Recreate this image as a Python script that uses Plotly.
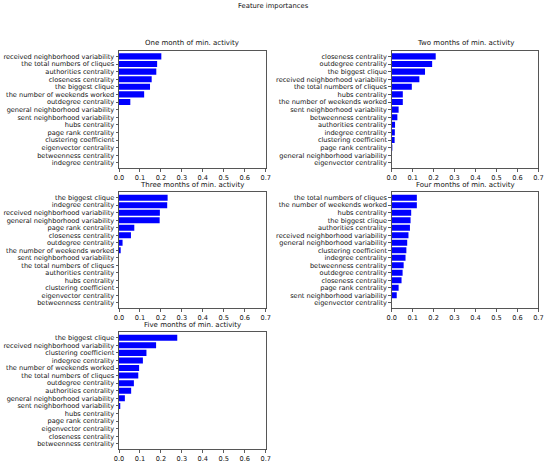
import plotly.graph_objects as go

titles = ["One month of min. activity", "Two months of min. activity",
          "Three months of min. activity", "Four months of min. activity",
          "Five months of min. activity"]

feat1 = ["received neighborhood variability", "the total numbers of cliques", "authorities centrality",
         "closeness centrality", "the biggest clique", "the number of weekends worked", "outdegree centrality",
         "general neighborhood variability", "sent neighborhood variability", "hubs centrality",
         "page rank centrality", "clustering coefficient", "eigenvector centrality",
         "betweenness centrality", "indegree centrality"]
vals1 = [0.202, 0.182, 0.178, 0.156, 0.148, 0.12, 0.054, 0, 0, 0, 0, 0, 0, 0, 0]

feat2 = ["closeness centrality", "outdegree centrality", "the biggest clique",
         "received neighborhood variability", "the total numbers of cliques", "hubs centrality",
         "the number of weekends worked", "sent neighborhood variability", "betweenness centrality",
         "authorities centrality", "indegree centrality", "clustering coefficient", "page rank centrality",
         "general neighborhood variability", "eigenvector centrality"]
vals2 = [0.21, 0.193, 0.159, 0.132, 0.096, 0.053, 0.053, 0.033, 0.027, 0.016, 0.015, 0.014, 0.003, 0.001, 0]

feat3 = ["the biggest clique", "indegree centrality", "received neighborhood variability",
         "general neighborhood variability", "page rank centrality", "closeness centrality",
         "outdegree centrality", "the number of weekends worked", "sent neighborhood variability",
         "the total numbers of cliques", "authorities centrality", "hubs centrality",
         "clustering coefficient", "eigenvector centrality", "betweenness centrality"]
vals3 = [0.232, 0.230, 0.195, 0.194, 0.073, 0.057, 0.017, 0.008, 0, 0, 0, 0, 0, 0, 0]

feat4 = ["the total numbers of cliques", "the number of weekends worked", "hubs centrality",
         "the biggest clique", "authorities centrality", "received neighborhood variability",
         "general neighborhood variability", "clustering coefficient", "indegree centrality",
         "betweenness centrality", "outdegree centrality", "closeness centrality", "page rank centrality",
         "sent neighborhood variability", "eigenvector centrality"]
vals4 = [0.12, 0.12, 0.093, 0.09, 0.087, 0.08, 0.074, 0.07, 0.066, 0.057, 0.052, 0.047, 0.033, 0.024, 0]

feat5 = ["the biggest clique", "received neighborhood variability", "clustering coefficient",
         "indegree centrality", "the number of weekends worked", "the total numbers of cliques",
         "outdegree centrality", "authorities centrality", "general neighborhood variability",
         "sent neighborhood variability", "hubs centrality", "page rank centrality",
         "eigenvector centrality", "closeness centrality", "betweenness centrality"]
vals5 = [0.278, 0.177, 0.131, 0.114, 0.096, 0.092, 0.071, 0.058, 0.028, 0.006, 0, 0, 0, 0, 0]

xticks = [0.0, 0.1, 0.2, 0.3, 0.4, 0.5, 0.6, 0.7]

W, H = 550, 464
FONT = "DejaVu Sans"
FS = 6.6

panels = [(feat1, vals1), (feat2, vals2), (feat3, vals3), (feat4, vals4), (feat5, vals5)]
# pixel boxes: (left, right, top, bottom)
cols = [(119, 265.7), (391.7, 538.4)]
rows = [(50.7, 168.5), (192, 308.5), (332, 449.5)]

fig = go.Figure()
for i, (feats, vals) in enumerate(panels):
    r, c = divmod(i, 2)
    xl, xr = cols[c]
    yt, yb = rows[r]
    n = i + 1
    xa = "x" if n == 1 else f"x{n}"
    ya = "y" if n == 1 else f"y{n}"
    fig.add_trace(go.Bar(
        x=vals, y=list(range(len(feats))), orientation="h",
        marker=dict(color="#0000ff", line=dict(width=0)),
        width=0.8, xaxis=xa, yaxis=ya, showlegend=False,
    ))
    ax = dict(
        domain=[xl / W, xr / W], range=[0, 0.7], tickvals=xticks,
        ticktext=[f"{t:.1f}" for t in xticks], ticks="outside", ticklen=2.5, tickwidth=0.8,
        tickcolor="#333", showgrid=False, zeroline=False, showline=True, linecolor="#444",
        linewidth=0.9, mirror=True, anchor=ya, tickfont=dict(family=FONT, size=FS, color="#111"),
        fixedrange=True, automargin=False,
    )
    ay = dict(
        domain=[1 - yb / H, 1 - yt / H], range=[len(feats) - 1 + 0.75, -0.75],
        tickvals=list(range(len(feats))), ticktext=feats, ticks="outside", ticklen=2.5,
        tickwidth=0.8, tickcolor="#333", showgrid=False, zeroline=False, showline=True,
        linecolor="#444", linewidth=0.9, mirror=True, anchor=xa,
        tickfont=dict(family=FONT, size=FS, color="#111"), fixedrange=True, automargin=False,
    )
    fig.layout["xaxis" if n == 1 else f"xaxis{n}"] = ax
    fig.layout["yaxis" if n == 1 else f"yaxis{n}"] = ay
    fig.add_annotation(
        text=titles[i], x=(xl + xr) / 2 / W, y=1 - (yt - 1.5) / H, xref="paper", yref="paper",
        xanchor="center", yanchor="bottom", showarrow=False,
        font=dict(family=FONT, size=7, color="#111"),
    )

fig.add_annotation(
    text="Feature importances", x=273 / W, y=1 - 6 / H, xref="paper", yref="paper",
    xanchor="center", yanchor="middle", showarrow=False,
    font=dict(family=FONT, size=6.8, color="#111"),
)

fig.update_layout(
    width=W, height=H, margin=dict(l=0, r=0, t=0, b=0, autoexpand=False),
    paper_bgcolor="white", plot_bgcolor="white", bargap=0.2,
)

fig.write_html(
    "out.html",
    config={"displayModeBar": False, "staticPlot": True},
    post_script="document.body.style.margin='0';document.body.style.overflow='hidden';",
)
